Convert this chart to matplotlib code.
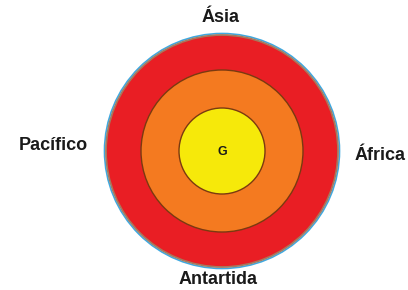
import matplotlib.pyplot as plt
from matplotlib.patches import Circle

# rings from outside to inside (radius in px)
ring_radii = [116, 81, 43]
ring_colors = ["#e91e24", "#f47a20", "#f6e90a"]
center_label = "G"

labels = ["Ásia", "Pacífico", "África", "Antartida"]
label_pos = [(221, 18), (53, 145), (380, 156), (218, 280)]

plt.rcParams["font.family"] = ["Liberation Sans", "DejaVu Sans"]

fig = plt.figure(figsize=(4.08, 2.90), dpi=100)
ax = fig.add_axes([0, 0, 1, 1])
ax.set_xlim(0, 408)
ax.set_ylim(290, 0)
ax.set_aspect("equal")
ax.axis("off")

cx, cy = 222, 151
# faint blue halo around the outer ring
ax.add_patch(Circle((cx, cy), ring_radii[0] + 1.5, facecolor="none",
                    edgecolor="#3fa9e0", linewidth=1.2))
for i, (r, c) in enumerate(zip(ring_radii, ring_colors)):
    ec = "#a57a5e" if i == 0 else "#7a3a10"
    ax.add_patch(Circle((cx, cy), r, facecolor=c, edgecolor=ec,
                        linewidth=1.3 if i == 0 else 1.0))

ax.text(cx, cy + 1, center_label, ha="center", va="center", fontsize=9,
        fontweight="bold", color="#1a1a1a")

for lab, (x, y) in zip(labels, label_pos):
    ax.text(x, y, lab, ha="center", va="center", fontsize=13,
            fontweight="bold", color="#1a1a1a")

fig.savefig("out.png", dpi=100)
